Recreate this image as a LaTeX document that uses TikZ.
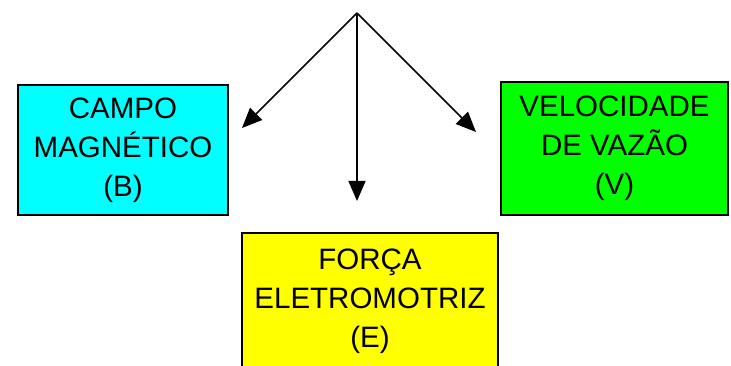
\documentclass[tikz,border=0pt]{standalone}
\usepackage{fontspec}
\setmainfont{Liberation Sans}
\usetikzlibrary{positioning,arrows.meta}
\definecolor{campo}{HTML}{00FFFF}
\definecolor{vazao}{HTML}{00FF00}
\definecolor{forca}{HTML}{FFFF00}

\begin{document}
\begin{tikzpicture}[x=1pt,y=-1pt,
      b/.style={rectangle,draw=black,line width=1.5pt,align=center,
                font=\fontsize{29.5}{39}\selectfont,inner sep=0pt},
      seta/.style={line width=1.5pt,-{Triangle[length=20pt,width=17pt]}}]
    \useasboundingbox (0,0) rectangle (731,366);
    \clip (0,0) rectangle (731,366);
    \node[b,fill=campo,minimum width=210pt,minimum height=130pt] (m) at (123,150)
      {CAMPO\\MAGNÉTICO\\(B)};
    \node[b,fill=vazao,minimum width=227pt,minimum height=133pt] (v) at (614.5,148.5)
      {VELOCIDADE\\DE VAZÃO\\(V)};
    \node[b,fill=forca,minimum width=256pt,minimum height=136pt] (e) at (370,301)
      {FORÇA\\ELETROMOTRIZ\\(E)};
    \coordinate (topo) at (357,13);
    \coordinate (pm) at (242,128);
    \coordinate (pe) at (357,201);
    \coordinate (pv) at (476,132);
    \draw[seta] (topo) -- (pm);
    \draw[seta] (topo) -- (pe);
    \draw[seta] (topo) -- (pv);
  \end{tikzpicture}
\end{document}
